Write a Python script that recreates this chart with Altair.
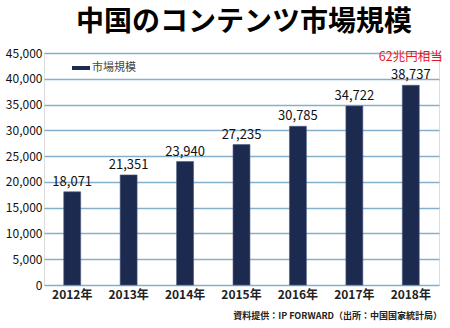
import altair as alt
import pandas as pd

years = ["2012年", "2013年", "2014年", "2015年", "2016年", "2017年", "2018年"]
values = [18071, 21351, 23940, 27235, 30785, 34722, 38737]
y_ticks = [0, 5000, 10000, 15000, 20000, 25000, 30000, 35000, 40000, 45000]
title_text = "中国のコンテンツ市場規模"
legend_text = "市場規模"
note_text = "62兆円相当"
source_text = "資料提供：IP FORWARD（出所：中国国家統計局）"

FONT = "Noto Sans CJK JP"
BAR = "#1c2a50"

df = pd.DataFrame({"year": years, "value": values})
df["label"] = [f"{v:,}" for v in values]

x = alt.X("year:N", sort=years, title=None,
          scale=alt.Scale(paddingInner=0.7, paddingOuter=0.35),
          axis=alt.Axis(labelAngle=0, labelFontSize=12, labelFontWeight="bold",
                        labelColor="#222", labelFont=FONT, labelPadding=4,
                        domain=False, ticks=False))
y = alt.Y("value:Q", title=None,
          scale=alt.Scale(domain=[0, 45000], nice=False),
          axis=alt.Axis(values=y_ticks, format=",d", labelFontSize=12,
                        labelColor="#111", labelFont=FONT, labelPadding=2,
                        domain=False, ticks=False, gridColor="#86afcb",
                        gridWidth=1.6))

base = alt.Chart(df)
bars = base.mark_bar(color=BAR, stroke="#4a5a80", strokeWidth=0.6).encode(x=x, y=y)
labels = base.mark_text(baseline="bottom", dy=-3, fontSize=13, font=FONT,
                        color="#111").encode(x=x, y=y, text="label:N")
note = alt.Chart(df[df["year"] == years[-1]]).mark_text(
    baseline="bottom", dy=-21, fontSize=12.5, font=FONT, color="#e8191e"
).encode(x=x, y=y, text=alt.value(note_text))

one = pd.DataFrame({"k": [0]})
title = alt.Chart(one).mark_text(text=title_text, fontSize=28, fontWeight="bold",
                                 font=FONT, color="#000", align="center",
                                 baseline="middle").encode(
    x=alt.value(200), y=alt.value(-30))
leg_sym = alt.Chart(one).mark_rule(color=BAR, strokeWidth=4).encode(
    x=alt.value(28), x2=alt.value(46), y=alt.value(15))
leg_txt = alt.Chart(one).mark_text(text=legend_text, fontSize=11, font=FONT,
                                   color="#444", align="left",
                                   baseline="middle").encode(
    x=alt.value(48), y=alt.value(15))
src = alt.Chart(one).mark_text(text=source_text, fontSize=9, fontWeight="bold",
                               font=FONT, color="#222", align="right",
                               baseline="middle").encode(
    x=alt.value(398), y=alt.value(31 + 232))

chart = alt.layer(bars, labels, note, title, leg_sym, leg_txt, src).properties(
    width=395, height=232,
    autosize=alt.AutoSizeParams(type="none"),
    padding={"left": 44, "top": 53, "right": 11, "bottom": 43},
).configure_view(stroke=None).configure(background="white")

chart.save("out.html", embed_options={"renderer": "svg", "actions": False})
